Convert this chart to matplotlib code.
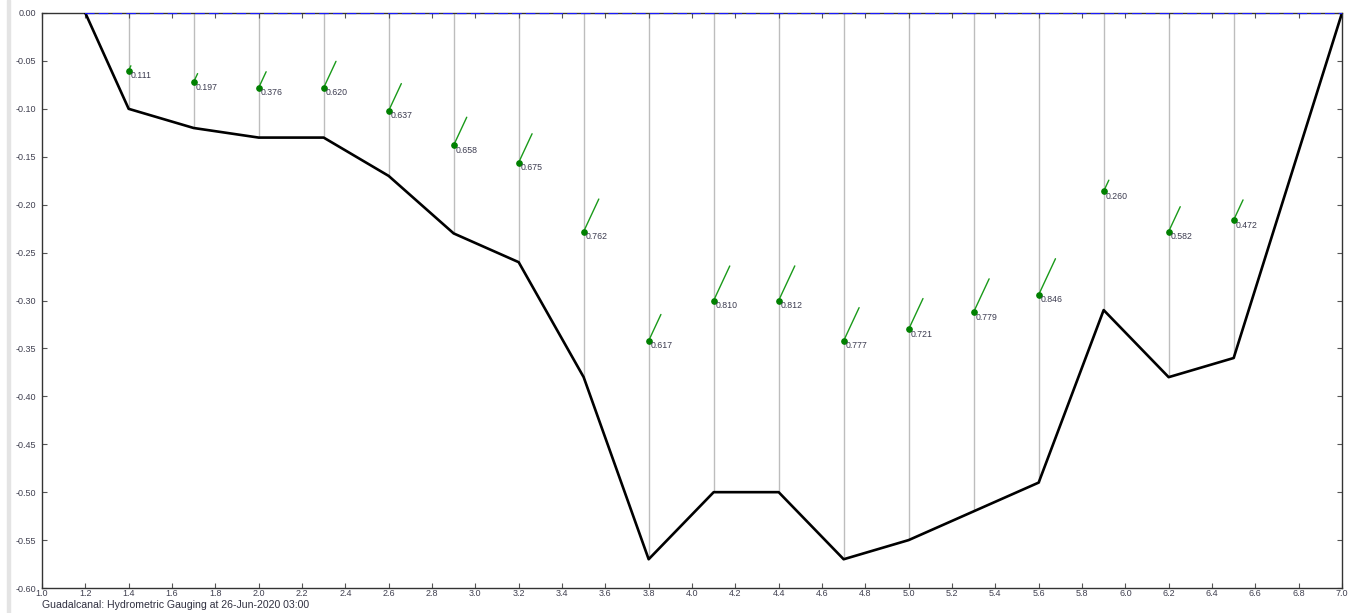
import numpy as np
import matplotlib
matplotlib.use("Agg")
import matplotlib.pyplot as plt
from matplotlib.patches import Rectangle

# Bed profile (distance, level)
bed_x = [1.2, 1.4, 1.7, 2.0, 2.3, 2.6, 2.9, 3.2, 3.5, 3.8, 4.1, 4.4, 4.7, 5.0, 5.3, 5.6, 5.9, 6.2, 6.5, 7.0]
bed_y = [0.00, -0.10, -0.12, -0.13, -0.13, -0.17, -0.23, -0.26, -0.38, -0.57, -0.50, -0.50,
         -0.57, -0.55, -0.52, -0.49, -0.31, -0.38, -0.36, 0.00]

# Verticals and measurement points
vert_x = [1.4, 1.7, 2.0, 2.3, 2.6, 2.9, 3.2, 3.5, 3.8, 4.1, 4.4, 4.7, 5.0, 5.3, 5.6, 5.9, 6.2, 6.5]
vert_bottom = [-0.10, -0.12, -0.13, -0.13, -0.17, -0.23, -0.26, -0.38, -0.57, -0.50, -0.50,
               -0.57, -0.55, -0.52, -0.49, -0.31, -0.38, -0.36]
point_y = [-0.060, -0.072, -0.078, -0.078, -0.102, -0.138, -0.156, -0.228, -0.342, -0.300, -0.300,
           -0.342, -0.330, -0.312, -0.294, -0.186, -0.228, -0.216]
velocity = [0.111, 0.197, 0.376, 0.620, 0.637, 0.658, 0.675, 0.762, 0.617, 0.810, 0.812,
            0.777, 0.721, 0.779, 0.846, 0.260, 0.582, 0.472]

water_x = [1.2, 7.0]
water_y = [0.0, 0.0]

x_ticks = [1.0 + 0.2 * i for i in range(31)]
y_ticks = [0.0, -0.05, -0.10, -0.15, -0.20, -0.25, -0.30, -0.35, -0.40, -0.45, -0.50, -0.55, -0.60]

footer = "Guadalcanal: Hydrometric Gauging at 26-Jun-2020 03:00"

plt.rcParams['font.family'] = ['Liberation Sans', 'DejaVu Sans']

W, H = 1351, 613
fig = plt.figure(figsize=(W / 100, H / 100), dpi=100)
fig.patches.append(Rectangle((7 / W, 0), 3 / W, 1, transform=fig.transFigure,
                             color='#e4e4e4', zorder=0))
ax = fig.add_axes([42 / W, 1 - 588 / H, 1300 / W, 575 / H])

# verticals
ax.vlines(vert_x, vert_bottom, 0, colors='#bdbdbd', linewidth=1.0, zorder=1)
# bed
ax.plot(bed_x, bed_y, color='black', linewidth=1.9, zorder=3)
# water surface
ax.plot(water_x, water_y, color='#1a1aff', linewidth=1.6, linestyle=(0, (4.3, 1.9)), zorder=4)

# velocity vectors, points and labels
ang = np.deg2rad(65)
scale = 47.0
for x, y, v in zip(vert_x, point_y, velocity):
    ax.annotate('', xy=(x, y), xytext=(v * scale * np.cos(ang), v * scale * np.sin(ang)),
                textcoords='offset pixels', xycoords='data',
                arrowprops=dict(arrowstyle='-', color='#1a9a1a', lw=1.0,
                                shrinkA=0, shrinkB=0), zorder=5)
    ax.plot([x], [y], 'o', color='#008000', markersize=3.8, zorder=6)
    ax.annotate(f"{v:.3f}", xy=(x, y), xytext=(2, -5), textcoords='offset pixels',
                fontsize=6.3, color='#3c3c50', ha='left', va='center', zorder=7)

ax.set_xlim(1.0, 7.0)
ax.set_ylim(-0.60, 0.0)
ax.set_xticks(x_ticks)
ax.set_xticklabels([f"{t:.1f}" for t in x_ticks])
ax.set_yticks(y_ticks)
ax.set_yticklabels([f"{t:.2f}" for t in y_ticks])
ax.tick_params(axis='both', direction='in', length=3.5, width=0.8, color='#555555',
               labelsize=6.5, labelcolor='#404050', top=True, right=True)
ax.tick_params(axis='x', pad=0.5)
ax.tick_params(axis='y', pad=4)
for s in ax.spines.values():
    s.set_color('#333333')
    s.set_linewidth(1.0)

fig.text(42 / W, 1 - 605 / H, footer, fontsize=7.6, color='#303040', ha='left', va='center')

fig.savefig('out.png', dpi=100)
